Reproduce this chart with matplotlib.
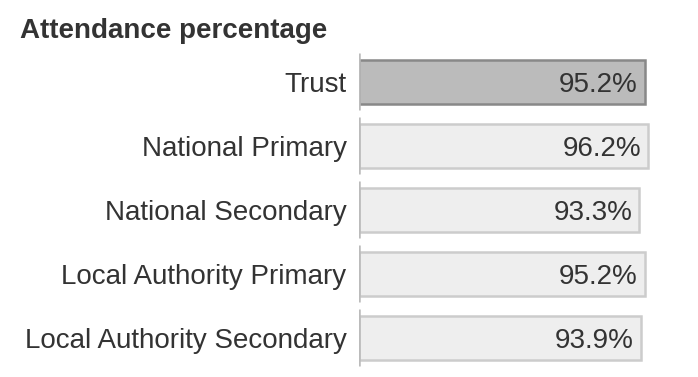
import matplotlib.pyplot as plt

plt.rcParams['font.family'] = ['Liberation Sans', 'DejaVu Sans']

categories = ["Trust", "National Primary", "National Secondary",
              "Local Authority Primary", "Local Authority Secondary"]
values = [95.2, 96.2, 93.3, 95.2, 93.9]
labels = ["95.2%", "96.2%", "93.3%", "95.2%", "93.9%"]

W, H = 698, 377
fig = plt.figure(figsize=(W / 100, H / 100), dpi=100)
# axes: x=0 at 359px, 100 at 659px; rows from y=50 to y=370
ax = fig.add_axes([359 / W, 1 - 370 / H, 300 / W, 320 / H])

face = ["#bbbbbb"] + ["#eeeeee"] * 4
edge = ["#888888"] + ["#cccccc"] * 4
ypos = list(range(len(categories)))

ax.barh(ypos, values, height=0.7, color=face, edgecolor=edge, linewidth=1.8)

for y, v, t in zip(ypos, values, labels):
    ax.text(v - 2.2, y, t, ha='right', va='center_baseline', fontsize=20,
            color='#333333')
    ax.vlines(0, y - 0.46, y + 0.44, color='#bbbbbb', linewidth=1.8)

ax.set_xlim(0, 100)
ax.set_ylim(len(categories) - 0.5, -0.5)
ax.set_yticks(ypos)
ax.set_yticklabels(categories, fontsize=20, color='#333333',
                   va='center_baseline')
ax.tick_params(axis='y', length=0, pad=9)
ax.set_xticks([])
for s in ax.spines.values():
    s.set_visible(False)

fig.text(20 / W, 1 - 31 / H, "Attendance percentage", fontsize=20,
         fontweight='bold', color='#333333', va='center', ha='left')

fig.savefig("out.png", dpi=100)
